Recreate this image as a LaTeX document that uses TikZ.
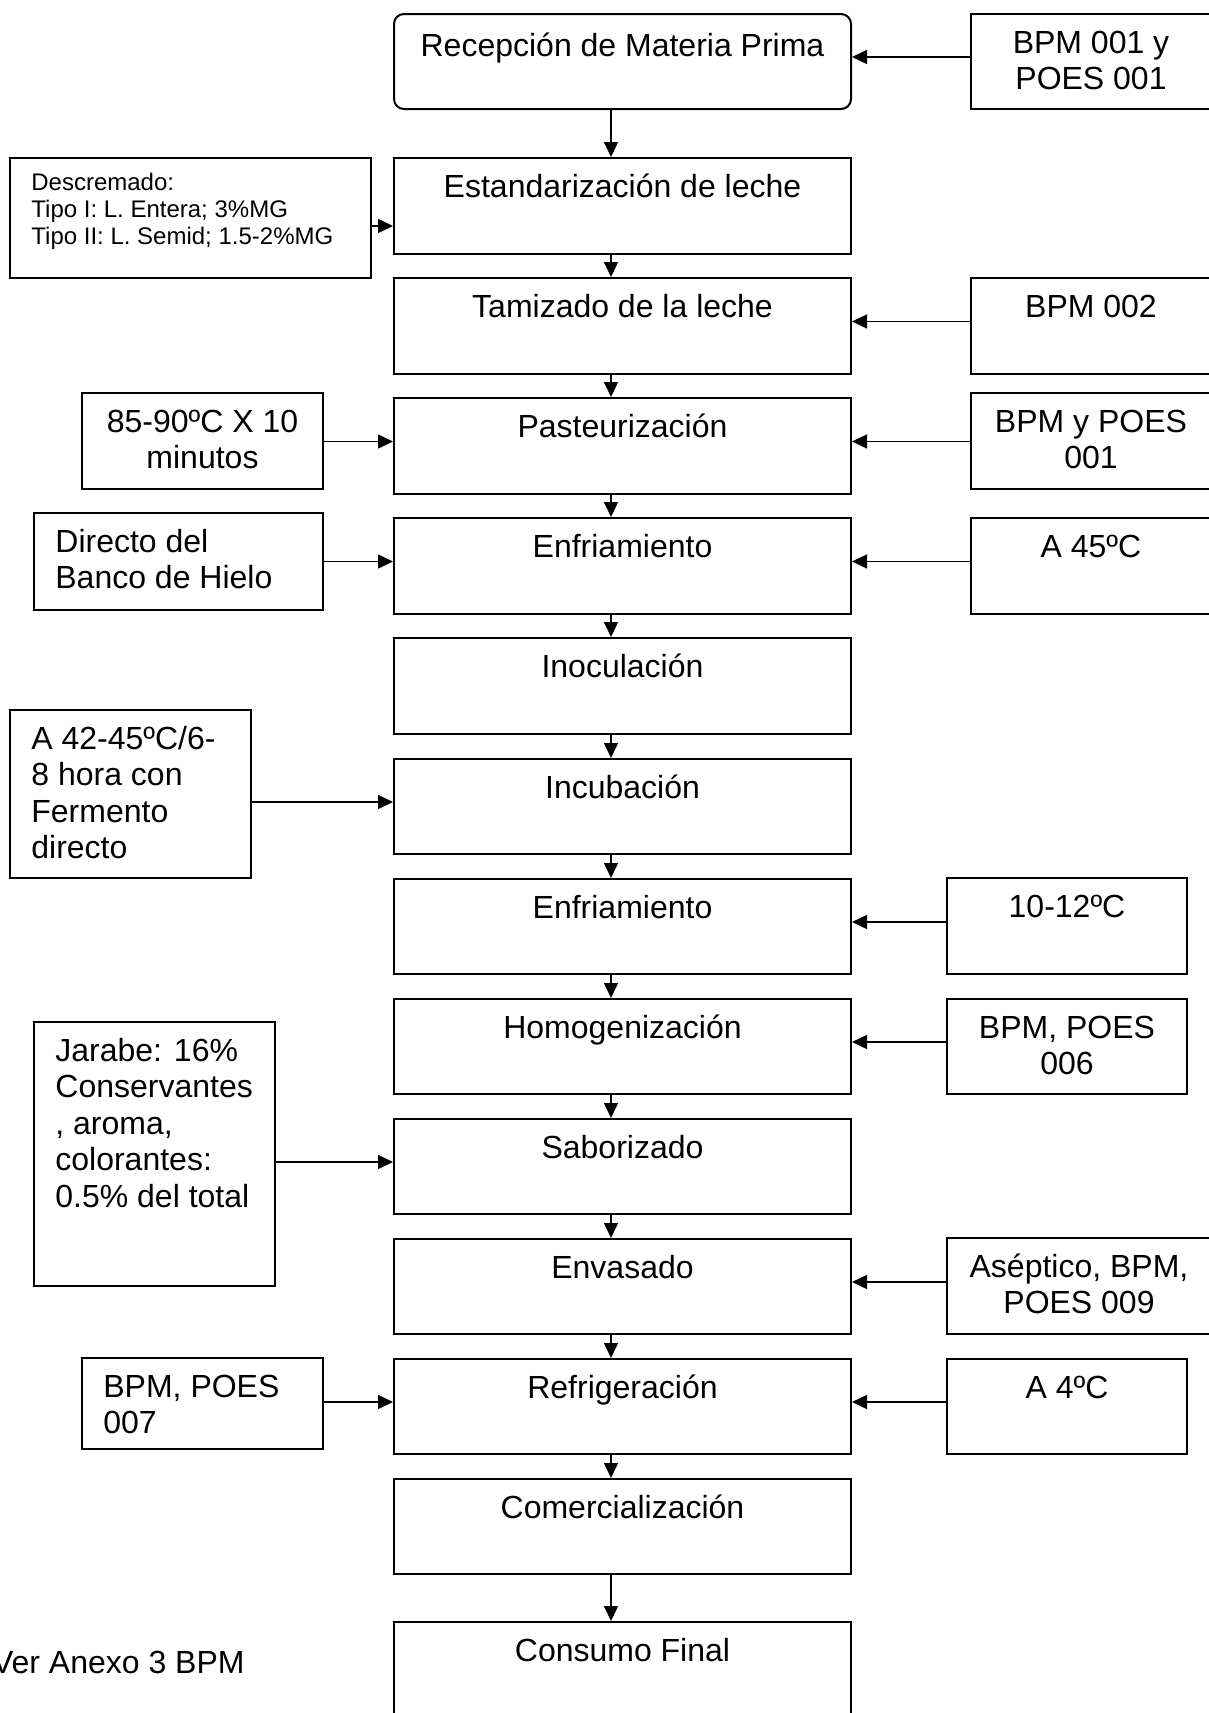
\documentclass[tikz,border=0pt]{standalone}
\usepackage{fontspec}
\setmainfont{Liberation Sans}
\usetikzlibrary{arrows.meta,fit}
\newcommand\bigtxt{\fontsize{16pt}{18.3pt}\selectfont}
\newcommand\smalltxt{\fontsize{12pt}{13.6pt}\selectfont}

\begin{document}
\begin{tikzpicture}[x=0.5pt,y=-0.5pt,
  box/.style={draw, line width=1pt, inner sep=0pt},
  ctxt/.style={inner sep=0pt, font=\bigtxt, align=center, anchor=north},
  ltxt/.style={inner sep=0pt, font=\bigtxt, align=left, anchor=north west},
  flow/.style={line width=0.75pt, -{Triangle[length=7.5pt,width=7pt]}}]

\useasboundingbox (0,0) rectangle (1209,1713);
\clip (0,0) rectangle (1209,1713);

% process column
\node[box, fit={(394,14) (851,109)}, rounded corners=5pt] (r1) {};
\node[box, fit={(394,158) (851,254)}]  (r2) {};
\node[box, fit={(394,278) (851,374)}]  (r3) {};
\node[box, fit={(394,398) (851,494)}]  (r4) {};
\node[box, fit={(394,518) (851,614)}]  (r5) {};
\node[box, fit={(394,638) (851,734)}]  (r6) {};
\node[box, fit={(394,759) (851,854)}]  (r7) {};
\node[box, fit={(394,879) (851,974)}]  (r8) {};
\node[box, fit={(394,999) (851,1094)}] (r9) {};
\node[box, fit={(394,1119) (851,1214)}] (r10) {};
\node[box, fit={(394,1239) (851,1334)}] (r11) {};
\node[box, fit={(394,1359) (851,1454)}] (r12) {};
\node[box, fit={(394,1479) (851,1574)}] (r13) {};
\node[box, fit={(394,1622) (851,1740)}] (r14) {};

\node[ctxt] (t1) at ([yshift=-8.6pt]r1.north) {\strut Recepción de Materia Prima};
\node[ctxt] (t2) at ([yshift=-7pt]r2.north) {\strut Estandarización de leche};
\node[ctxt] (t3) at ([yshift=-7pt]r3.north) {\strut Tamizado de la leche};
\node[ctxt] (t4) at ([yshift=-7pt]r4.north) {\strut Pasteurización};
\node[ctxt] (t5) at ([yshift=-7pt]r5.north) {\strut Enfriamiento};
\node[ctxt] (t6) at ([yshift=-7pt]r6.north) {\strut Inoculación};
\node[ctxt] (t7) at ([yshift=-7pt]r7.north) {\strut Incubación};
\node[ctxt] (t8) at ([yshift=-7pt]r8.north) {\strut Enfriamiento};
\node[ctxt] (t9) at ([yshift=-7pt]r9.north) {\strut Homogenización};
\node[ctxt] (t10) at ([yshift=-7pt]r10.north) {\strut Saborizado};
\node[ctxt] (t11) at ([yshift=-7pt]r11.north) {\strut Envasado};
\node[ctxt] (t12) at ([yshift=-7pt]r12.north) {\strut Refrigeración};
\node[ctxt] (t13) at ([yshift=-7pt]r13.north) {\strut Comercialización};
\node[ctxt] (t14) at ([yshift=-7pt]r14.north) {\strut Consumo Final};

% controls on the right
\node[box, fit={(971,14) (1211,109)}]   (s1) {};
\node[box, fit={(971,278) (1211,374)}]  (s3) {};
\node[box, fit={(971,393) (1211,489)}]  (s4) {};
\node[box, fit={(971,518) (1211,614)}]  (s5) {};
\node[box, fit={(947,878) (1187,974)}]  (s8) {};
\node[box, fit={(947,999) (1187,1094)}] (s9) {};
\node[box, fit={(947,1238) (1211,1334)}] (s11) {};
\node[box, fit={(947,1359) (1187,1454)}] (s12) {};

\node[ctxt] (u1) at ([yshift=-7pt]s1.north) {\strut BPM 001 y\\POES 001};
\node[ctxt] (u3) at ([yshift=-7pt]s3.north) {\strut BPM 002};
\node[ctxt] (u4) at ([yshift=-7pt]s4.north) {\strut BPM y POES\\001};
\node[ctxt] (u5) at ([yshift=-7pt]s5.north) {\strut A 45ºC};
\node[ctxt] (u8) at ([yshift=-7pt]s8.north) {\strut 10-12ºC};
\node[ctxt] (u9) at ([yshift=-7pt]s9.north) {\strut BPM, POES\\006};
\node[ctxt] (u11) at ([yshift=-7pt]s11.north) {\strut Aséptico, BPM,\\POES 009};
\node[ctxt] (u12) at ([yshift=-7pt]s12.north) {\strut A 4ºC};

% inputs on the left
\node[box, fit={(10,158) (371,278)}]   (l2) {};
\node[box, fit={(82,393) (323,489)}]   (l4) {};
\node[box, fit={(34,513) (323,610)}]   (l5) {};
\node[box, fit={(10,710) (251,878)}]   (l7) {};
\node[box, fit={(34,1022) (275,1286)}] (l10) {};
\node[box, fit={(82,1358) (323,1449)}] (l12) {};

\node[ltxt, font=\smalltxt] (v2) at ([xshift=11pt,yshift=-7pt]l2.north west)
  {\strut Descremado:\\Tipo I: L. Entera; 3\%MG\\Tipo II: L. Semid; 1.5-2\%MG};
\node[ctxt] (v4) at ([yshift=-7pt]l4.north) {\strut 85-90ºC X 10\\minutos};
\node[ltxt] (v5) at ([xshift=11pt,yshift=-7pt]l5.north west) {\strut Directo del\\Banco de Hielo};
\node[ltxt] (v7) at ([xshift=11pt,yshift=-7pt]l7.north west)
  {\strut A 42-45ºC/6-\\8 hora con\\Fermento\\directo};
\node[ltxt] (v10) at ([xshift=11pt,yshift=-7pt]l10.north west)
  {\strut Jarabe: 16\%\\Conservantes\\, aroma,\\colorantes:\\0.5\% del total};
\node[ltxt] (v12) at ([xshift=11pt,yshift=-7pt]l12.north west) {\strut BPM, POES\\007};

\node[inner sep=0pt, font=\bigtxt, anchor=base east] (note) at (245,1673) {Ver Anexo 3 BPM};

% main flow
\coordinate (axis) at (611,0);
\foreach \a/\b in {r1/r2,r2/r3,r3/r4,r4/r5,r5/r6,r6/r7,r7/r8,r8/r9,r9/r10,r10/r11,r11/r12,r12/r13,r13/r14}
  \draw[flow] (\a.south -| axis) -- (\b.north -| axis);

% side connectors
\foreach \s/\r in {s1/r1,s3/r3,s4/r4,s5/r5,s8/r8,s9/r9,s11/r11,s12/r12} {
  \coordinate (ar\r) at ([yshift=2.25pt]\r.east);
  \draw[flow] (\s.west |- ar\r) -- (ar\r);
}
\foreach \l/\r in {l4/r4,l5/r5,l7/r7,l10/r10,l12/r12} {
  \coordinate (al\r) at ([yshift=2.25pt]\r.west);
  \draw[flow] (\l.east |- al\r) -- (al\r);
}
\coordinate (alr2) at ([yshift=-10pt]r2.west);
\draw[flow] (l2.east |- alr2) -- (alr2);

\end{tikzpicture}
\end{document}
